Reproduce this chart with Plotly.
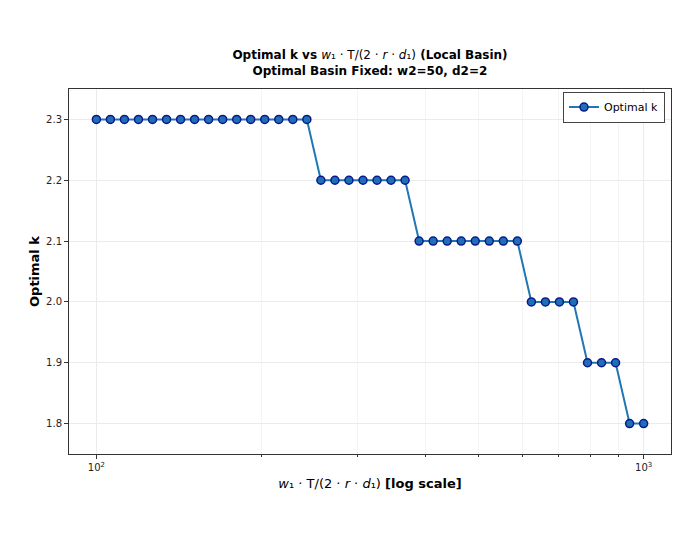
import plotly.graph_objects as go

# x values (w1*T/(2*r*d1)) (log-spaced from 100 to 1000)
x_vals = [100.0, 106.08, 112.53, 119.38, 126.64, 134.34, 142.51, 151.18, 160.37, 170.13,
          180.47, 191.45, 203.09, 215.44, 228.55, 242.45, 257.19, 272.83, 289.43, 307.03,
          325.70, 345.51, 366.52, 388.82, 412.46, 437.55, 464.16, 492.39, 522.34, 554.10,
          587.80, 623.55, 661.47, 701.70, 744.38, 789.65, 837.68, 888.62, 942.67, 1000.0]
optimal_k = [2.3] * 16 + [2.2] * 7 + [2.1] * 8 + [2.0] * 4 + [1.9] * 3 + [1.8] * 2

y_ticks = [1.8, 1.9, 2.0, 2.1, 2.2, 2.3]
x_major = [100, 1000]
x_major_text = ["10<sup>2</sup>", "10<sup>3</sup>"]
x_minor = [200, 300, 400, 500, 600, 700, 800, 900]

FONT = "DejaVu Sans"

fig = go.Figure()
fig.add_trace(go.Scatter(
    x=x_vals, y=optimal_k, mode="lines+markers", name="Optimal k",
    line=dict(color="#1f77b4", width=2),
    marker=dict(size=8, color="#1f6fb8", line=dict(color="#0a1a8a", width=1.5)),
))

fig.update_layout(
    width=698, height=539,
    paper_bgcolor="white", plot_bgcolor="white",
    margin=dict(l=61, r=35, t=81, b=93),
    font=dict(family=FONT, size=10, color="#222"),
    title=dict(
        text="<b>Optimal k vs </b><i>w</i>₁ · T/(2 · <i>r</i> · <i>d</i>₁)<b> (Local Basin)</b>"
             "<br><b>Optimal Basin Fixed: w2=50, d2=2</b>",
        x=0.5186, xanchor="center", y=0.905, yanchor="middle",
        font=dict(family=FONT, size=12, color="#000"),
    ),
    showlegend=True,
    legend=dict(
        x=0.99, y=0.993, xanchor="right", yanchor="top",
        bgcolor="white", bordercolor="#444", borderwidth=1,
        font=dict(family=FONT, size=11, color="#000"),
        tracegroupgap=0, itemwidth=30,
    ),
    xaxis=dict(
        type="log", range=[1.95, 3.05],
        tickmode="array", tickvals=x_major, ticktext=x_major_text,
        ticks="outside", ticklen=4, tickcolor="#333",
        showgrid=True, gridcolor="#ebebeb", gridwidth=1,
        minor=dict(tickmode="array", tickvals=x_minor, ticks="outside", ticklen=2,
                   tickcolor="#333", showgrid=True, gridcolor="#f4f4f4", gridwidth=1),
        showline=True, linecolor="#333", linewidth=1, mirror=True,
        zeroline=False,
        title=dict(text="<i>w</i>₁ · T/(2 · <i>r</i> · <i>d</i>₁) <b>[log scale]</b>",
                   font=dict(family=FONT, size=13, color="#000"), standoff=6),
        tickfont=dict(family=FONT, size=10, color="#222"),
    ),
    yaxis=dict(
        range=[1.75, 2.35],
        tickmode="array", tickvals=y_ticks, ticktext=[f"{v:.1f}" for v in y_ticks],
        ticks="outside", ticklen=4, tickcolor="#333",
        showgrid=True, gridcolor="#ebebeb", gridwidth=1,
        showline=True, linecolor="#333", linewidth=1, mirror=True,
        zeroline=False,
        title=dict(text="<b>Optimal k</b>", font=dict(family=FONT, size=13, color="#000"), standoff=3),
        tickfont=dict(family=FONT, size=10, color="#222"),
    ),
)

fig.write_html("out.html")
